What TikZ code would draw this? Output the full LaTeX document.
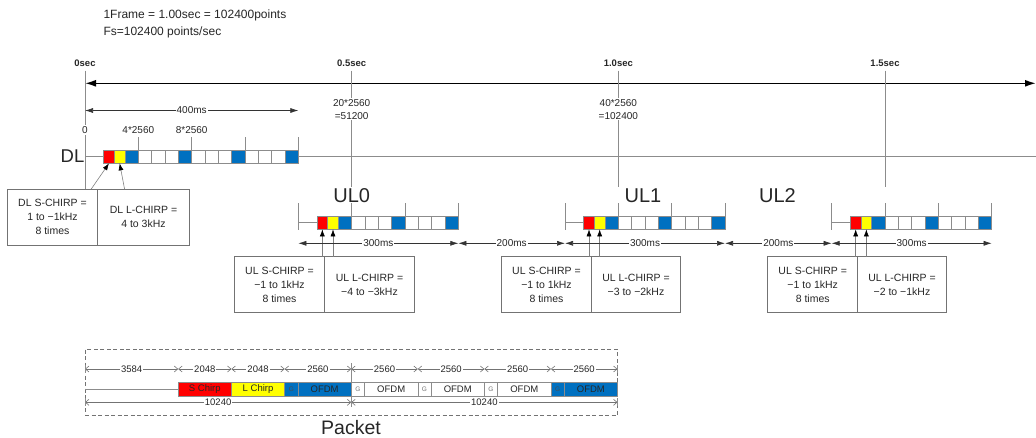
\documentclass[tikz,border=0pt]{standalone}
\usepackage{fontspec}
\setmainfont{Liberation Sans}
\usetikzlibrary{arrows.meta,positioning,calc}

\definecolor{ofdmblue}{RGB}{0,112,192}
\definecolor{chirpred}{RGB}{255,0,0}
\definecolor{chirpyellow}{RGB}{255,255,0}

% frame bar: #1 name, #2 start x, #3 bar y, #4 last block, #5 tick groups
\newcommand{\framebar}[5]{%
  \draw[thinline] (#2,#3) -- ({#2+18.67},#3);
  \node[sblk] (#1s) at ({#2+24},#3) {};
  \node[lblk] (#1l) at ({#2+34.67},#3) {};
  \foreach \i [evaluate=\i as \bm using {int(mod(\i,4))}] in {3,...,#4}{%
    \ifnum\bm=3 \node[oblk] (#1-\i) at ({#2+(\i+0.5)*13.333},#3) {};%
    \else \node[wblk] (#1-\i) at ({#2+(\i+0.5)*13.333},#3) {};\fi}
  \foreach \k in {1,...,#5}
    \draw[thinline] ({#2+\k*53.333},{#3-6.67}) -- ++(0,-13);
}

\begin{document}
\begin{tikzpicture}[x=1pt, y=-1pt,
    every node/.style={text=black!85},
    thinline/.style={draw=black!45, line width=0.6pt},
    blk/.style={draw=black!45, line width=0.5pt, inner sep=0pt, outer sep=0pt,
      minimum width=13.33pt, minimum height=13.33pt},
    sblk/.style={blk, fill=chirpred, minimum width=10.67pt},
    lblk/.style={blk, fill=chirpyellow, minimum width=10.67pt},
    oblk/.style={blk, fill=ofdmblue},
    wblk/.style={blk, fill=white},
    infobox/.style={draw=black!55, line width=0.6pt, inner sep=0pt, outer sep=0pt,
      minimum width=90pt, minimum height=56pt, align=center,
      font=\fontsize{10.5}{14}\selectfont},
    ptr/.style={draw=black!50, line width=0.6pt, -{Latex[length=7pt,width=5pt,black]}},
    dim/.style={draw=black!80, line width=0.6pt,
      {Latex[length=8pt,width=5pt]}-{Latex[length=8pt,width=5pt]}},
    dimlabel/.style={fill=white, inner sep=1pt, font=\fontsize{10}{12}\selectfont},
    seclabel/.style={font=\fontsize{9.5}{11}\selectfont\bfseries},
    smalltext/.style={font=\fontsize{10}{13}\selectfont},
    biglabel/.style={font=\fontsize{20}{24}\selectfont},
    pblk/.style={draw=black!45, line width=0.5pt, inner sep=0pt, outer sep=0pt,
      minimum height=13.33pt, font=\fontsize{9.5}{11}\selectfont},
    gblk/.style={pblk, minimum width=13.31pt, font=\fontsize{6.5}{8}\selectfont, text=black!55},
    ofdm/.style={pblk, minimum width=53.25pt},
    pdim/.style={draw=black!55, line width=0.6pt,
      {Straight Barb[length=3.5pt,width=6pt]}-{Straight Barb[length=3.5pt,width=6pt]}},
    pdimlabel/.style={fill=white, inner sep=1pt, font=\fontsize{9.5}{11}\selectfont},
  ]
    \useasboundingbox (0,0) rectangle (1036,437);

    % Frame info
    \node[anchor=west, font=\fontsize{12}{14}\selectfont] (frameinfo) at (100,15) {1Frame = 1.00sec = 102400points};
    \node[anchor=west, font=\fontsize{12}{14}\selectfont] (fsinfo) at (100,32) {Fs=102400 points/sec};

    % Time axis
    \coordinate (axl) at (85,83.3);
    \coordinate (axr) at (1036,83.3);
    \draw[line width=1.6pt, {Latex[length=11pt,width=7pt]}-{Latex[length=11pt,width=7pt]}] (axl) -- (axr);

    % Second marks
    \node[seclabel] (t0) at (85,63.5) {0sec};
    \node[seclabel] (t05) at (351.67,63.5) {0.5sec};
    \node[seclabel] (t10) at (618.33,63.5) {1.0sec};
    \node[seclabel] (t15) at (885,63.5) {1.5sec};
    \draw[thinline] (85,70.5) -- (85,189.3);
    \foreach \x in {351.67,618.33,885}
      \draw[thinline] (\x,70.5) -- (\x,187);
    \node[smalltext, fill=white, inner sep=1pt, align=center] (pt05) at (351.67,109.3) {20*2560\\=51200};
    \node[smalltext, fill=white, inner sep=1pt, align=center] (pt10) at (618.33,109.3) {40*2560\\=102400};

    % 400ms
    \coordinate (d400a) at (85,110.5);
    \coordinate (d400b) at (298.33,110.5);
    \draw[dim] (d400a) -- node[dimlabel] {400ms} (d400b);

    % DL frame
    \draw[thinline] (85,156.67) -- (1036,156.67);
    \framebar{dl}{85}{156.67}{15}{4}
    \node[smalltext, fill=white, inner sep=1pt] (dl0) at (85,130) {0};
    \node[smalltext] (dl4) at (138.33,130) {4*2560};
    \node[smalltext] (dl8) at (191.67,130) {8*2560};
    \node[font=\fontsize{18.5}{22}\selectfont, anchor=east, inner sep=0.5pt] (dllabel) at (85,156) {DL};

    \node[infobox, minimum width=90.5pt] (dlsbox) at (52.5,217.3) {DL S-CHIRP =\\1 to −1kHz\\8 times};
    \node[infobox, minimum width=91.5pt, right=0pt of dlsbox] (dllbox) {DL L-CHIRP =\\4 to 3kHz};
    \draw[ptr] (dlsbox.36) -- (dls.south);
    \draw[ptr] (dllbox.124) -- (dll.south);

    % UL0 frame
    \draw[thinline] (298.33,203) -- (298.33,230);
    \framebar{ul0}{298.33}{222.67}{11}{3}
    \node[biglabel] (ul0label) at (351.67,196) {UL0};
    \node[infobox] (ul0sbox) at (279.5,284.7) {UL S-CHIRP =\\−1 to 1kHz\\8 times};
    \node[infobox, right=0pt of ul0sbox] (ul0lbox) {UL L-CHIRP =\\−4 to −3kHz};
    \draw[ptr] (ul0s.south |- ul0sbox.north) -- (ul0s.south);
    \draw[ptr] (ul0l.south |- ul0lbox.north) -- (ul0l.south);

    % UL1 frame
    \draw[thinline] (565,203) -- (565,230);
    \framebar{ul1}{565}{222.67}{11}{3}
    \node[biglabel] (ul1label) at (643,196) {UL1};
    \node[infobox] (ul1sbox) at (546.5,284.7) {UL S-CHIRP =\\−1 to 1kHz\\8 times};
    \node[infobox, minimum width=89pt, right=0pt of ul1sbox] (ul1lbox) {UL L-CHIRP =\\−3 to −2kHz};
    \draw[ptr] (ul1s.south |- ul1sbox.north) -- (ul1s.south);
    \draw[ptr] (ul1l.south |- ul1lbox.north) -- (ul1l.south);

    % UL2 frame
    \draw[thinline] (831.67,203) -- (831.67,230);
    \framebar{ul2}{831.67}{222.67}{11}{3}
    \node[biglabel] (ul2label) at (777.5,196) {UL2};
    \node[infobox] (ul2sbox) at (812.7,284.7) {UL S-CHIRP =\\−1 to 1kHz\\8 times};
    \node[infobox, minimum width=88.5pt, right=0pt of ul2sbox] (ul2lbox) {UL L-CHIRP =\\−2 to −1kHz};
    \draw[ptr] (ul2s.south |- ul2sbox.north) -- (ul2s.south);
    \draw[ptr] (ul2l.south |- ul2lbox.north) -- (ul2l.south);

    % UL timing
    \coordinate (u0a) at (298.33,243.3);
    \coordinate (u0b) at (458.33,243.3);
    \coordinate (u1a) at (565,243.3);
    \coordinate (u1b) at (725,243.3);
    \coordinate (u2a) at (831.67,243.3);
    \coordinate (u2b) at (991.67,243.3);
    \draw[dim] (u0a) -- node[dimlabel] {300ms} (u0b);
    \draw[dim] (u0b) -- node[dimlabel] {200ms} (u1a);
    \draw[dim] (u1a) -- node[dimlabel] {300ms} (u1b);
    \draw[dim] (u1b) -- node[dimlabel] {200ms} (u2a);
    \draw[dim] (u2a) -- node[dimlabel] {300ms} (u2b);

    % Packet
    \node[draw=black!55, line width=0.7pt, dash pattern=on 4pt off 2.5pt,
      minimum width=532.5pt, minimum height=65.7pt, inner sep=0pt] (pktframe) at (351.25,382.15) {};
    \node[font=\fontsize{19.5}{22}\selectfont, anchor=base, inner sep=0.5pt] (pktlabel) at (351,434) {Packet};

    \coordinate (pkt0) at (85,389.3);
    \node[pblk, fill=chirpred, minimum width=53.25pt, anchor=west] (pkts) at (178.18,389.3) {S Chirp};
    \draw[thinline] (pkt0) -- (pkts.west);
    \node[pblk, fill=chirpyellow, minimum width=53.25pt, right=0pt of pkts] (pktl) {L Chirp};
    \node[gblk, fill=ofdmblue, text=black!70, right=0pt of pktl] (pktg1) {G};
    \node[ofdm, fill=ofdmblue, right=0pt of pktg1] (pkto1) {OFDM};
    \foreach \i/\p in {2/1,3/2,4/3} {
      \node[gblk, fill=white, right=0pt of pkto\p] (pktg\i) {G};
      \node[ofdm, fill=white, right=0pt of pktg\i] (pkto\i) {OFDM};
    }
    \node[gblk, fill=ofdmblue, text=black!70, right=0pt of pkto4] (pktg5) {G};
    \node[ofdm, fill=ofdmblue, right=0pt of pktg5] (pkto5) {OFDM};

    % Packet sizes (in units of 512 points)
    \foreach \a/\b/\t in {0/7/3584, 7/11/2048, 11/15/2048, 15/20/2560,
        20/25/2560, 25/30/2560, 30/35/2560, 35/40/2560}
      \draw[pdim] ({85+13.312*\a},369) -- node[pdimlabel] {\t} ({85+13.312*\b},369);
    \foreach \a/\b in {0/20, 20/40}
      \draw[pdim] ({85+13.312*\a},402.3) -- node[pdimlabel] {10240} ({85+13.312*\b},402.3);
    \draw[thinline] (351.24,363) -- ++(0,44);
    \foreach \x in {85,617.48}
      \foreach \y in {369,402.3}
        \draw[thinline] (\x,\y-4) -- (\x,\y+4);
\end{tikzpicture}
\end{document}
